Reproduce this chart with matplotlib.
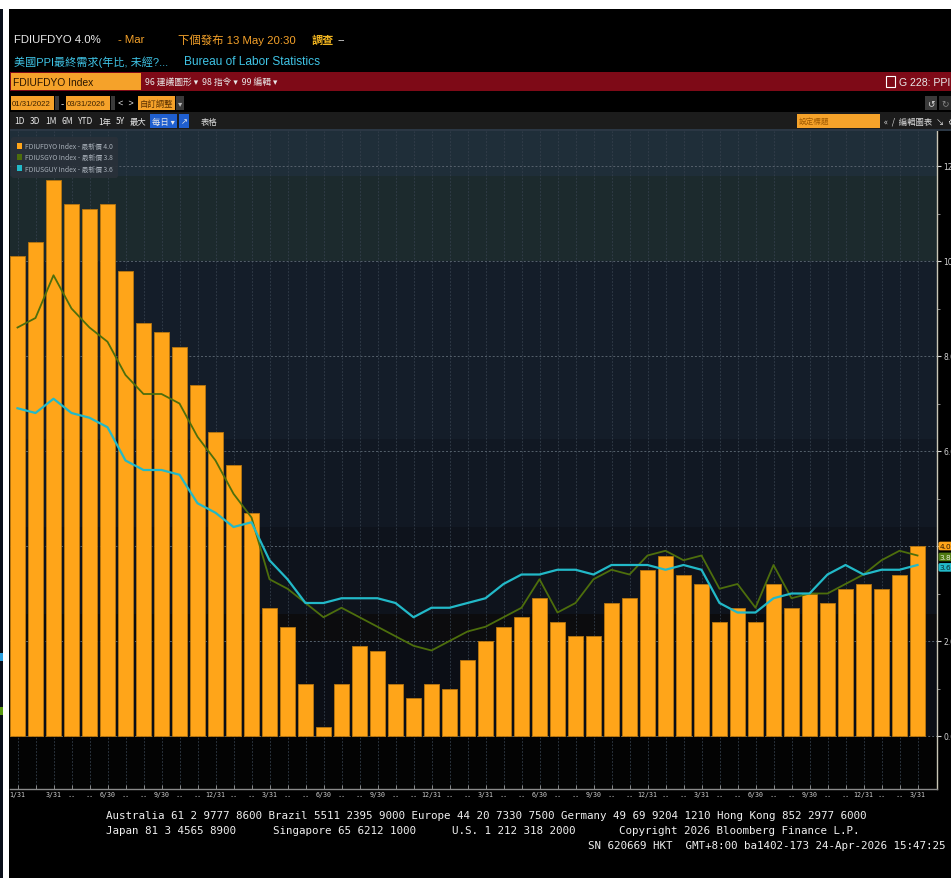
import matplotlib
matplotlib.use("Agg")
import matplotlib.pyplot as plt
import matplotlib.transforms as mtransforms
from matplotlib.patches import Rectangle, Patch
from matplotlib.font_manager import FontProperties, fontManager

# ---------------- data ----------------
months = [f"{y}-{m:02d}" for y in (2022, 2023, 2024, 2025) for m in range(1, 13)] + ["2026-01", "2026-02", "2026-03"]

ppi_final_demand = [10.1, 10.4, 11.7, 11.2, 11.1, 11.2, 9.8, 8.7, 8.5, 8.2, 7.4, 6.4,
                    5.7, 4.7, 2.7, 2.3, 1.1, 0.2, 1.1, 1.9, 1.8, 1.1, 0.8, 1.1,
                    1.0, 1.6, 2.0, 2.3, 2.5, 2.9, 2.4, 2.1, 2.1, 2.8, 2.9, 3.5,
                    3.8, 3.4, 3.2, 2.4, 2.7, 2.4, 3.2, 2.7, 3.0, 2.8, 3.1, 3.2,
                    3.1, 3.4, 4.0]

ppi_core = [8.6, 8.8, 9.7, 9.0, 8.6, 8.3, 7.6, 7.2, 7.2, 7.0, 6.3, 5.8,
            5.1, 4.6, 3.3, 3.1, 2.8, 2.5, 2.7, 2.5, 2.3, 2.1, 1.9, 1.8,
            2.0, 2.2, 2.3, 2.5, 2.7, 3.3, 2.6, 2.8, 3.3, 3.5, 3.4, 3.8,
            3.9, 3.7, 3.8, 3.1, 3.2, 2.7, 3.6, 2.9, 3.0, 3.0, 3.2, 3.4,
            3.7, 3.9, 3.8]

ppi_core_ex_trade = [6.9, 6.8, 7.1, 6.8, 6.7, 6.5, 5.8, 5.6, 5.6, 5.5, 4.9, 4.7,
                     4.4, 4.5, 3.7, 3.3, 2.8, 2.8, 2.9, 2.9, 2.9, 2.8, 2.5, 2.7,
                     2.7, 2.8, 2.9, 3.2, 3.4, 3.4, 3.5, 3.5, 3.4, 3.6, 3.6, 3.6,
                     3.5, 3.6, 3.5, 2.8, 2.6, 2.6, 2.9, 3.0, 3.0, 3.4, 3.6, 3.4,
                     3.5, 3.5, 3.6]

x_tick_labels = ["1/31", "", "3/31", "..", "..", "6/30", "..", "..", "9/30", "..", "..", "12/31",
                 "..", "..", "3/31", "..", "..", "6/30", "..", "..", "9/30", "..", "..", "12/31",
                 "..", "..", "3/31", "..", "..", "6/30", "..", "..", "9/30", "..", "..", "12/31",
                 "..", "..", "3/31", "..", "..", "6/30", "..", "..", "9/30", "..", "..", "12/31",
                 "..", "..", "3/31"]

y_ticks = [0, 2, 4, 6, 8, 10, 12]
series_names = ["FDIUFDYO Index - 最新價 4.0", "FDIUSGYO Index - 最新價 3.8", "FDIUSGUY Index - 最新價 3.6"]
tag_labels = ["4.0", "3.8", "3.6"]

# ---------------- styling ----------------
W, H = 951, 879
BAR_C = "#FFA519"
GREEN_C = "#4d6e0c"
CYAN_C = "#22b9c8"
ORANGE_T = "#f5a22a"
CYAN_T = "#3fc4e6"
WHITE_T = "#e8e8e8"

_names = {f.name for f in fontManager.ttflist}
NARROW = "Liberation Sans Narrow" if "Liberation Sans Narrow" in _names else "Liberation Sans"
HEAD = [NARROW, "Noto Sans CJK TC", "DejaVu Sans"]
CJK = ["Noto Sans CJK TC", "DejaVu Sans"]
MONO = ["DejaVu Sans Mono"]

fig = plt.figure(figsize=(W / 100, H / 100), dpi=100, facecolor="black")


def fx(x):
    return x / W


def fy(y):
    return 1 - y / H


def rect(x0, y0, x1, y1, color, z=1, **kw):
    fig.patches.append(Rectangle((fx(x0), fy(y1)), (x1 - x0) / W, (y1 - y0) / H,
                                 transform=fig.transFigure, facecolor=color,
                                 edgecolor=kw.pop("ec", "none"), zorder=z, **kw))


def txt(x, y, s, color=WHITE_T, size=8, family=None, ha="left", **kw):
    fig.text(fx(x), fy(y), s, color=color, fontsize=size, family=family or HEAD,
             ha=ha, va="center", **kw)


# white frame strips
rect(0, 0, W, 10, "white", z=5)
rect(3, 10, 9, H, "white", z=5)
rect(0, 10, 3, H, "#0a0f1a", z=5)
rect(0, 654, 3, 662, "#2aa0e0", z=6)
rect(0, 708, 3, 716, "#5a9a10", z=6)

# ---------------- header ----------------
txt(14, 40, "FDIUFDYO 4.0%", WHITE_T, 8.2)
txt(118, 40, "- Mar", ORANGE_T, 8.2)
txt(178, 40, "下個發布 13 May 20:30", ORANGE_T, 8.2)
txt(312, 40, "調查", "#f0b420", 8.0, weight="bold")
txt(337, 40, "--", WHITE_T, 8.2)
txt(14, 62, "美國PPI最終需求(年比, 未經?...", CYAN_T, 8.0)
txt(184, 62, "Bureau of Labor Statistics", CYAN_T, 8.6)

# red command bar
rect(10, 73, W, 92, "#7e0a17")
rect(11, 74, 141, 91, ORANGE_T, z=2)
txt(13, 82.5, "FDIUFDYO Index", "#2a1500", 7.4)
txt(145, 82.5, "96 建議圖形 ▾  98 指令 ▾  99 編輯 ▾", WHITE_T, 6.3, family=CJK)
rect(886, 77, 895, 88, "none", z=2, ec="white", lw=0.8)
txt(950, 82.5, "G 228: PPI", WHITE_T, 7.6, ha="right")

# date row
rect(11, 97, 54, 111, ORANGE_T)
txt(12, 104, "01/31/2022", "#3a2000", 5.6)
rect(55, 97, 59, 111, "#3a3a3a")
txt(60.5, 104, "-", WHITE_T, 7)
rect(66, 97, 110, 111, ORANGE_T)
txt(67, 104, "03/31/2026", "#3a2000", 5.6)
rect(111, 97, 115, 111, "#3a3a3a")
txt(118, 104, "<  >", WHITE_T, 6.5)
rect(138, 97, 175, 111, ORANGE_T)
txt(140, 104, "自訂調整", "#5a3000", 6, family=CJK)
rect(176, 97, 184, 111, "#3a3a3a")
txt(177.5, 104, "▾", "#bbbbbb", 6, family=["DejaVu Sans"])
rect(925, 97, 937, 111, "#3a3a3a")
rect(939, 97, 951, 111, "#2a2a2a")
txt(927, 104, "↺", "#dddddd", 6.5, family=["DejaVu Sans"])
txt(941, 104, "↻", "#888888", 6.5, family=["DejaVu Sans"])

# range row
rect(10, 113, W, 130, "#1c1c1c")
for xx, lab in [(14, "1D"), (30, "3D"), (45, "1M"), (62, "6M"), (78, "YTD"), (98, "1年"), (116, "5Y"), (130, "最大")]:
    txt(xx, 122, lab, WHITE_T, 6, family=CJK)
rect(150, 115, 177, 129, "#1f5fd0")
txt(152, 122, "每日 ▾", WHITE_T, 6, family=CJK)
rect(179, 115, 189, 129, "#1f5fd0")
txt(181, 122, "↗", WHITE_T, 6, family=["DejaVu Sans"])
txt(201, 122, "表格", "#dddddd", 6, family=CJK)
rect(797, 115, 880, 129, ORANGE_T)
txt(799, 122, "設定標題", "#a05a00", 5.5, family=CJK)
txt(884, 122, "«  /  編輯圖表  ↘  ⚙", "#dddddd", 6, family=CJK)
rect(10, 130, W, 132, "#2b3744")

# ---------------- chart ----------------
Y0_PX, PX_PER_UNIT = 737, 47.5
TOP_PX, BOT_PX, LEFT_PX, RIGHT_PX = 132, 790, 10, 937
BAR_STEP_PX, FIRST_C_PX = 18, 17.5


def val(p):
    return (Y0_PX - p) / PX_PER_UNIT


ax = fig.add_axes([fx(LEFT_PX), fy(BOT_PX), (RIGHT_PX - LEFT_PX) / W, (BOT_PX - TOP_PX) / H])
ax.set_facecolor("#0b0e15")
ax.set_ylim(val(BOT_PX), val(TOP_PX))
ax.set_xlim((LEFT_PX - FIRST_C_PX) / BAR_STEP_PX, (RIGHT_PX - FIRST_C_PX) / BAR_STEP_PX)

bands = [(131, 177, "#1f2e39"), (177, 262, "#1c2a2d"), (262, 440, "#141d29"),
         (440, 528, "#111823"), (528, 615, "#0e131c"), (615, 642, "#0c0c0e"),
         (642, 737, "#0b0e15"), (737, 791, "#030303")]
for p0, p1, c in bands:
    ax.axhspan(val(p1), val(p0), color=c, zorder=0.1, lw=0)

x = list(range(len(months)))
ax.bar(x, ppi_final_demand, width=0.78, color=BAR_C, edgecolor="#b8760f", linewidth=0.6, zorder=3)
ax.plot(x, ppi_core, color=GREEN_C, lw=1.3, zorder=4, solid_joinstyle="round")
ax.plot(x, ppi_core_ex_trade, color=CYAN_C, lw=1.6, zorder=5, solid_joinstyle="round")

ax.set_axisbelow(True)
ax.set_xticks(x)
ax.set_xticklabels(x_tick_labels, fontsize=4.8, color="#cfcfcf", family=MONO)
ax.tick_params(axis="x", direction="in", length=3, width=0.6, color="#9a9a9a", pad=1.5)
ax.grid(axis="x", color="#35404d", ls=(0, (2, 2)), lw=0.6)

ax.yaxis.tick_right()
ax.set_yticks(y_ticks)
ax.set_yticklabels([f"{v:.1f}" for v in y_ticks], fontsize=5.5, color="#d0d0d0")
ax.set_yticks([1, 3, 5, 7, 9, 11], minor=True)
ax.tick_params(axis="y", which="major", length=3, width=0.8, color="#d8d8d8", pad=1.5)
ax.tick_params(axis="y", which="minor", length=2, width=0.6, color="#9a9a9a")
ax.grid(axis="y", color="#56616c", ls=(0, (2, 2)), lw=0.7)

for s in ("top", "left"):
    ax.spines[s].set_visible(False)
ax.spines["right"].set_color("#c9c6b6")
ax.spines["right"].set_linewidth(1.0)
ax.spines["bottom"].set_color("#8a8a8a")
ax.spines["bottom"].set_linewidth(1.0)

# last-value tags on the right axis (stacked like the terminal does)
blend = mtransforms.blended_transform_factory(ax.transAxes, ax.transData)
for v, lab, fc, tc in [(ppi_core_ex_trade[-1] - 0.05, tag_labels[2], CYAN_C, "#0a2a30"),
                       (ppi_core[-1] - 0.03, tag_labels[1], "#4f7a12", "#e8f0d8"),
                       (ppi_final_demand[-1], tag_labels[0], BAR_C, "#2a1500")]:
    ax.text(1.003, v, lab, transform=blend, fontsize=5.3, color=tc, va="center", ha="left",
            clip_on=False, zorder=10,
            bbox=dict(boxstyle="round,pad=0.18,rounding_size=0.25", fc=fc, ec="none"))

# legend
handles = [Patch(facecolor=BAR_C, edgecolor="none"),
           Patch(facecolor=GREEN_C, edgecolor="none"),
           Patch(facecolor=CYAN_C, edgecolor="none")]
leg = ax.legend(handles, series_names, loc="upper left", bbox_to_anchor=(0.0, 0.993),
                prop=FontProperties(family=CJK, size=4.9), labelcolor="#a9b1ba",
                frameon=True, facecolor="#2a3139", edgecolor="none", framealpha=0.9,
                handlelength=0.7, handleheight=1.1, handletextpad=0.5,
                borderpad=0.7, labelspacing=0.45, borderaxespad=0.3)
leg.get_frame().set_boxstyle("round,pad=0.1,rounding_size=0.4")
leg.set_zorder(12)

# ---------------- footer ----------------
FS = 7.85
txt(106, 816, "Australia 61 2 9777 8600 Brazil 5511 2395 9000 Europe 44 20 7330 7500 Germany 49 69 9204 1210 Hong Kong 852 2977 6000",
    "#f0f0f0", FS, family=MONO)
txt(106, 831, "Japan 81 3 4565 8900", "#f0f0f0", FS, family=MONO)
txt(273, 831, "Singapore 65 6212 1000", "#f0f0f0", FS, family=MONO)
txt(452, 831, "U.S. 1 212 318 2000", "#f0f0f0", FS, family=MONO)
txt(619, 831, "Copyright 2026 Bloomberg Finance L.P.", "#f0f0f0", FS, family=MONO)
txt(945, 846, "SN 620669 HKT  GMT+8:00 ba1402-173 24-Apr-2026 15:47:25", "#f0f0f0", FS, family=MONO, ha="right")

fig.savefig("out.png", dpi=100, facecolor="black")
